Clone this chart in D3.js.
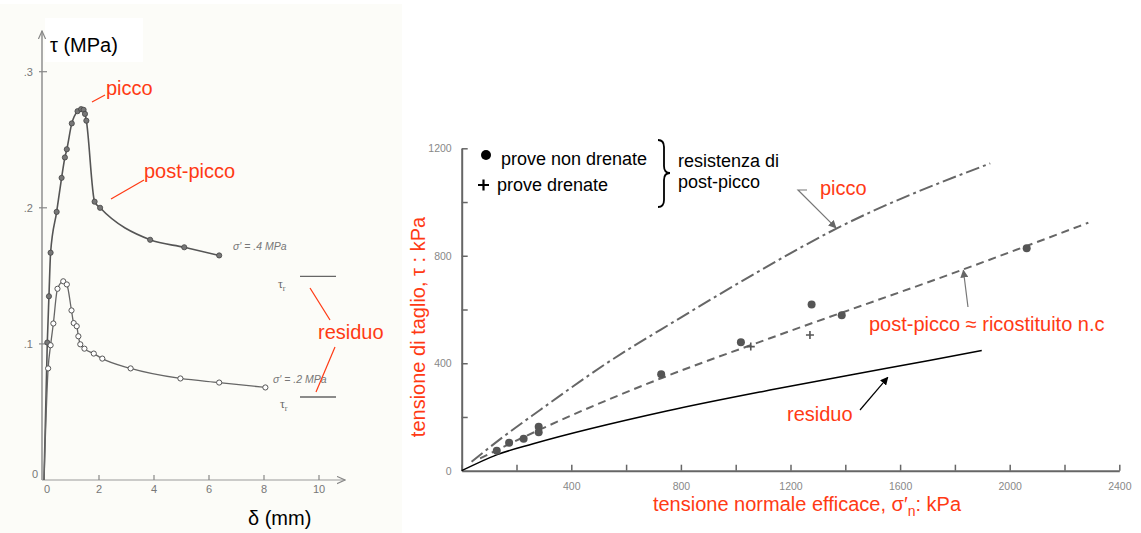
<!DOCTYPE html>
<html>
<head>
<meta charset="utf-8">
<script src="https://cdn.jsdelivr.net/npm/d3@7"></script>
<style>
body { margin: 0; background: #fff; }
svg { display: block; font-family: "Liberation Sans", Arial, sans-serif; }
</style>
</head>
<body>
<svg id="chart" width="1141" height="533"></svg>
<script>
// ---- left chart: shear stress vs displacement (MPa, mm)
var delta04 = [0.12, 0.18, 0.24, 0.46, 0.64, 0.76, 0.83, 1.01, 1.22, 1.35, 1.44, 1.49, 1.54, 1.84, 2.04, 3.86, 5.1, 6.37];
var tau04 = [0.101, 0.135, 0.167, 0.197, 0.222, 0.237, 0.243, 0.262, 0.271, 0.2725, 0.272, 0.269, 0.264, 0.2045, 0.200, 0.1765, 0.171, 0.165];
var delta02 = [0.15, 0.24, 0.34, 0.49, 0.70, 0.83, 1.0, 1.08, 1.19, 1.25, 1.32, 1.47, 1.81, 2.12, 3.15, 4.96, 6.37, 8.05];
var tau02 = [0.082, 0.099, 0.115, 0.1405, 0.146, 0.1437, 0.1246, 0.1153, 0.113, 0.1056, 0.0997, 0.0965, 0.0929, 0.0892, 0.082, 0.0746, 0.0716, 0.068];
var tauResidual = [0.1496, 0.061];
var leftXTicks = [0, 2, 4, 6, 8, 10];
var leftYTicks = [0.1, 0.2, 0.3];

// ---- right chart: strength envelopes (kPa)
var sigmaUndrained = [128, 173, 226, 281, 281, 728, 1019, 1277, 1387, 2062];
var tauUndrained = [74, 104, 119, 164, 143, 359, 478, 619, 579, 828];
var sigmaDrained = [1055, 1271];
var tauDrained = [462, 505];
var sigmaPeak = [36, 150, 286, 529, 785, 1089, 1369, 1929];
var tauPeak = [33, 125, 226, 400, 561, 745, 902, 1144];
var sigmaPost = [67, 281, 728, 1125, 1825, 2287];
var tauPost = [46, 151, 344, 493, 747, 923];
var sigmaRes = [0, 130, 261, 748, 1125, 1551, 1898];
var tauRes = [0, 60, 100, 222, 300, 381, 447];
var rightTicks = d3.range(0, 2401, 200);

var red = "#ff3a14";
var svg = d3.select("#chart");

//arrow heads
var defs = svg.append("defs");
function marker(id, color, open) {
    var m = defs.append("marker")
        .attr("id", id)
        .attr("viewBox", "0 0 10 10")
        .attr("refX", 9).attr("refY", 5)
        .attr("markerWidth", open ? 9 : 8).attr("markerHeight", open ? 9 : 8)
        .attr("markerUnits", "userSpaceOnUse")
        .attr("orient", "auto");
    if (open) {
        m.append("path").attr("d", "M0,1 L9,5 L0,9").attr("fill", "none").attr("stroke", color).attr("stroke-width", 1.3);
    } else {
        m.append("path").attr("d", "M0,0 L10,5 L0,10 Z").attr("fill", color);
    }
}
marker("arrGray", "#666", false);
marker("arrBlack", "#000", false);
marker("arrAxis", "#888", true);

// ================= LEFT CHART =================
var xL = d3.scaleLinear().domain([0, 10]).range([44, 319]);
var yL = d3.scaleLinear().domain([0, 0.3]).range([480, 71.7]);

var left = svg.append("g");
//scanned paper background
left.append("rect").attr("x", 0).attr("y", 4).attr("width", 402).attr("height", 529).attr("fill", "#fcfcf8");
left.append("rect").attr("x", 45).attr("y", 18).attr("width", 98).attr("height", 44).attr("fill", "#fff");

//axes with arrows
left.append("line")
    .attr("x1", xL(0) - 2).attr("y1", yL(0)).attr("x2", xL(0) - 2).attr("y2", 31)
    .attr("stroke", "#888").attr("stroke-width", 1.4).attr("marker-end", "url(#arrAxis)");
left.append("line")
    .attr("x1", xL(0) - 2).attr("y1", yL(0)).attr("x2", 345).attr("y2", yL(0))
    .attr("stroke", "#999").attr("stroke-width", 1.2).attr("marker-end", "url(#arrAxis)");

left.selectAll(".xt").data(leftXTicks.slice(1)).enter().append("line")
    .attr("x1", d => xL(d)).attr("x2", d => xL(d))
    .attr("y1", yL(0)).attr("y2", yL(0) - 5)
    .attr("stroke", "#888").attr("stroke-width", 1.2);
left.selectAll(".xl").data(leftXTicks).enter().append("text")
    .attr("x", d => xL(d) + (d === 0 ? 3 : 0)).attr("y", yL(0) + 13)
    .attr("text-anchor", "middle").attr("font-size", 11).attr("fill", "#777")
    .text(d => d);

left.selectAll(".yt").data(leftYTicks).enter().append("line")
    .attr("x1", xL(0) - 5).attr("x2", xL(0) + 3)
    .attr("y1", d => yL(d)).attr("y2", d => yL(d))
    .attr("stroke", "#888").attr("stroke-width", 1.2);
left.selectAll(".yl").data(leftYTicks).enter().append("text")
    .attr("x", xL(0) - 11).attr("y", d => yL(d) + 4)
    .attr("text-anchor", "end").attr("font-size", 11).attr("fill", "#777")
    .text(d => d3.format(".1f")(d).replace(/^0/, ""));
left.append("text").attr("x", xL(0) - 6).attr("y", yL(0) - 2)
    .attr("text-anchor", "end").attr("font-size", 11).attr("fill", "#777").text("0");

//curves
var lineL = d3.line().x(d => xL(d[0])).y(d => yL(d[1])).curve(d3.curveMonotoneX);
var pts04 = delta04.map((d, i) => [d, tau04[i]]);
var pts02 = delta02.map((d, i) => [d, tau02[i]]);

left.append("path").attr("d", lineL([[0, 0]].concat(pts04)))
    .attr("fill", "none").attr("stroke", "#555").attr("stroke-width", 1.6);
left.append("path").attr("d", lineL([[0, 0]].concat(pts02)))
    .attr("fill", "none").attr("stroke", "#666").attr("stroke-width", 1.3);

left.selectAll(".d04").data(pts04).enter().append("circle")
    .attr("cx", d => xL(d[0])).attr("cy", d => yL(d[1])).attr("r", 2.6)
    .attr("fill", "#777").attr("stroke", "#444").attr("stroke-width", 0.8);
left.selectAll(".d02").data(pts02).enter().append("circle")
    .attr("cx", d => xL(d[0])).attr("cy", d => yL(d[1])).attr("r", 2.6)
    .attr("fill", "#fff").attr("stroke", "#555").attr("stroke-width", 1);

//residual levels
left.selectAll(".res").data(tauResidual).enter().append("line")
    .attr("x1", 300).attr("x2", 336)
    .attr("y1", d => yL(d)).attr("y2", d => yL(d))
    .attr("stroke", "#666").attr("stroke-width", 1.3);
var tr = left.selectAll(".trl").data(tauResidual).enter().append("text")
    .attr("x", (d, i) => i === 0 ? 278 : 280)
    .attr("y", (d, i) => yL(d) + (i === 0 ? 12 : 11))
    .attr("font-family", "'Liberation Serif', serif").attr("font-size", 12).attr("fill", "#666");
tr.append("tspan").text("τ");
tr.append("tspan").attr("font-size", 8).attr("dy", 3).text("r");

left.append("text").attr("x", 233).attr("y", 250)
    .attr("font-size", 10.5).attr("font-style", "italic").attr("fill", "#777").text("σ' =  .4  MPa");
left.append("text").attr("x", 273).attr("y", 383)
    .attr("font-size", 10.5).attr("font-style", "italic").attr("fill", "#777").text("σ' = .2 MPa");

//labels
left.append("text").attr("x", 50).attr("y", 52).attr("font-size", 20).attr("fill", "#000").text("τ (MPa)");
left.append("text").attr("x", 248).attr("y", 525).attr("font-size", 20).attr("fill", "#000").text("δ (mm)");

left.append("line").attr("x1", 92).attr("y1", 102).attr("x2", 105).attr("y2", 95).attr("stroke", red).attr("stroke-width", 1.2);
left.append("text").attr("x", 106).attr("y", 95).attr("font-size", 20).attr("fill", red).text("picco");
left.append("line").attr("x1", 111).attr("y1", 199).attr("x2", 144).attr("y2", 180).attr("stroke", red).attr("stroke-width", 1.2);
left.append("text").attr("x", 144).attr("y", 178).attr("font-size", 20).attr("fill", red).text("post-picco");
left.append("line").attr("x1", 310).attr("y1", 288).attr("x2", 330).attr("y2", 320).attr("stroke", red).attr("stroke-width", 1.2);
left.append("line").attr("x1", 335).attr("y1", 347).attr("x2", 316).attr("y2", 392).attr("stroke", red).attr("stroke-width", 1.2);
left.append("text").attr("x", 318).attr("y", 339).attr("font-size", 20).attr("fill", red).text("residuo");

// ================= RIGHT CHART =================
var xR = d3.scaleLinear().domain([0, 2400]).range([461.7, 1119.3]);
var yR = d3.scaleLinear().domain([0, 1200]).range([470.7, 148.3]);
var right = svg.append("g");

var xAxis = d3.axisBottom(xR).tickValues(rightTicks).tickSizeInner(-6).tickSizeOuter(0)
    .tickPadding(12).tickFormat(d => (d > 0 && d % 400 === 0) ? d : "");
var yAxis = d3.axisLeft(yR).tickValues(rightTicks.filter(d => d <= 1200)).tickSizeInner(-6).tickSizeOuter(0)
    .tickPadding(10).tickFormat(d => d % 400 === 0 ? d : "");

var gx = right.append("g").attr("transform", `translate(0, ${yR(0)})`).call(xAxis);
var gy = right.append("g").attr("transform", `translate(${xR(0)}, 0)`).call(yAxis);
[gx, gy].forEach(g => {
    g.select(".domain").attr("stroke", "#666").attr("stroke-width", 2);
    g.selectAll(".tick line").attr("stroke", "#666").attr("stroke-width", 1.5);
    g.selectAll(".tick text").attr("fill", "#888").attr("font-size", 10.5)
        .attr("font-family", "'Liberation Sans', Arial, sans-serif");
});
gy.select(".tick line").attr("x2", 0);

//envelopes
var lineR = d3.line().x(d => xR(d[0])).y(d => yR(d[1])).curve(d3.curveMonotoneX);
right.append("path").attr("d", lineR(sigmaPeak.map((s, i) => [s, tauPeak[i]])))
    .attr("fill", "none").attr("stroke", "#666").attr("stroke-width", 2)
    .attr("stroke-dasharray", "14,4,3,4");
right.append("path").attr("d", lineR(sigmaPost.map((s, i) => [s, tauPost[i]])))
    .attr("fill", "none").attr("stroke", "#666").attr("stroke-width", 2)
    .attr("stroke-dasharray", "8,5");
right.append("path").attr("d", lineR(sigmaRes.map((s, i) => [s, tauRes[i]])))
    .attr("fill", "none").attr("stroke", "#000").attr("stroke-width", 1.5);

//test points
right.selectAll(".und").data(sigmaUndrained).enter().append("circle")
    .attr("cx", d => xR(d)).attr("cy", (d, i) => yR(tauUndrained[i])).attr("r", 4)
    .attr("fill", "#555");
right.selectAll(".dr").data(sigmaDrained).enter().append("path")
    .attr("d", (d, i) => {
        var x = xR(d), y = yR(tauDrained[i]);
        return `M${x - 4},${y}H${x + 4}M${x},${y - 4}V${y + 4}`;
    })
    .attr("stroke", "#555").attr("stroke-width", 1.6);

//axis titles
right.append("text").attr("x", 807).attr("y", 511).attr("text-anchor", "middle")
    .attr("font-size", 20).attr("fill", red)
    .call(t => {
        t.append("tspan").text("tensione normale efficace, σ′");
        t.append("tspan").attr("font-size", 14).attr("dy", 5).text("n");
        t.append("tspan").attr("dy", -5).text(": kPa");
    });
right.append("text").attr("transform", "translate(425, 327) rotate(-90)")
    .attr("text-anchor", "middle").attr("font-size", 20).attr("fill", red)
    .text("tensione di taglio, τ : kPa");

//legend
right.append("circle").attr("cx", 486).attr("cy", 155).attr("r", 5).attr("fill", "#000");
right.append("text").attr("x", 501).attr("y", 165).attr("font-size", 18).text("prove non drenate");
right.append("path").attr("d", "M478,185H489M483.5,179.5V190.5").attr("stroke", "#000").attr("stroke-width", 2.2);
right.append("text").attr("x", 497).attr("y", 191).attr("font-size", 18).text("prove drenate");
right.append("path")
    .attr("d", "M658,140 Q664,140 664,147 L664,166 Q664,173 670,173 Q664,173 664,180 L664,200 Q664,207 658,207")
    .attr("fill", "none").attr("stroke", "#000").attr("stroke-width", 1.8);
right.append("text").attr("x", 678).attr("y", 167).attr("font-size", 18).text("resistenza di");
right.append("text").attr("x", 678).attr("y", 188).attr("font-size", 18).text("post-picco");

//annotations
right.append("path")
    .attr("d", `M807,190 L798,190 L${xR(1366)},${yR(904)}`)
    .attr("fill", "none").attr("stroke", "#777").attr("stroke-width", 1.2).attr("marker-end", "url(#arrGray)");
right.append("text").attr("x", 820).attr("y", 195).attr("font-size", 20).attr("fill", red).text("picco");

right.append("line").attr("x1", 968).attr("y1", 307).attr("x2", xR(1831)).attr("y2", yR(746))
    .attr("stroke", "#777").attr("stroke-width", 1.2).attr("marker-end", "url(#arrGray)");
right.append("text").attr("x", 869).attr("y", 331).attr("font-size", 20).attr("fill", red)
    .text("post-picco ≈ ricostituito n.c");

right.append("line").attr("x1", 860).attr("y1", 410).attr("x2", xR(1555)).attr("y2", yR(347))
    .attr("stroke", "#000").attr("stroke-width", 1.2).attr("marker-end", "url(#arrBlack)");
right.append("text").attr("x", 787).attr("y", 421).attr("font-size", 20).attr("fill", red).text("residuo");
</script>
</body>
</html>
